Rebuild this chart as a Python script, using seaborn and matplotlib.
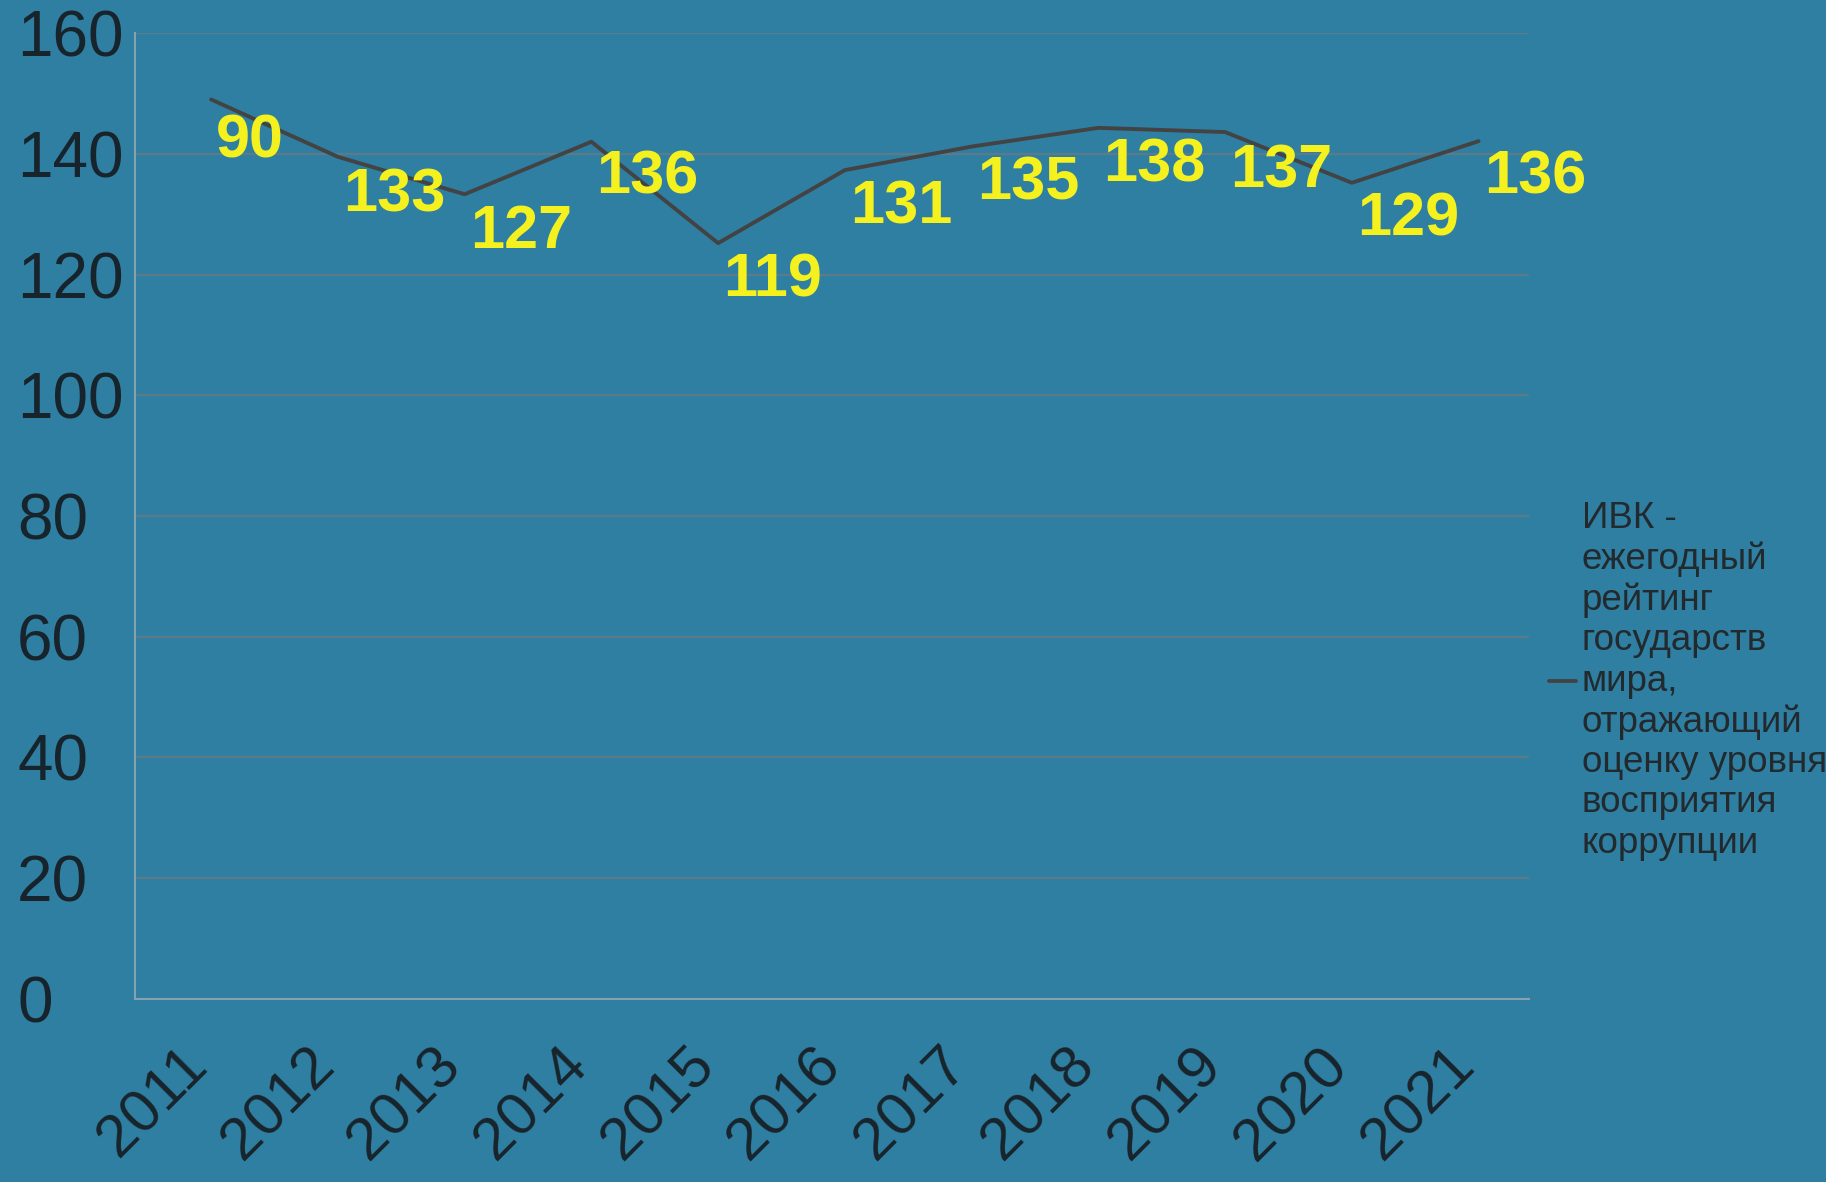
import pandas as pd
import seaborn as sns
import matplotlib.pyplot as plt
from matplotlib.ticker import FixedLocator

# Data
years = ['2011', '2012', '2013', '2014', '2015', '2016',
         '2017', '2018', '2019', '2020', '2021']
line_values = [149, 139.5, 133.3, 142, 125.2, 137.3, 141.2, 144.3, 143.6, 135.2, 142.1]
label_values = [90, 133, 127, 136, 119, 131, 135, 138, 137, 129, 136]
series_name = ('ИВК -\nежегодный\nрейтинг\nгосударств\nмира,\nотражающий\n'
               'оценку уровня\nвосприятия\nкоррупции')

bg = '#2f7fa3'
text_col = '#18242b'

sns.set_style('white')
plt.rcParams['font.family'] = ['Liberation Sans', 'DejaVu Sans']

df = pd.DataFrame({'year': years, 'value': line_values})
df['x'] = range(len(years))

fig = plt.figure(figsize=(18.26, 11.82), dpi=100, facecolor=bg)
ax = fig.add_axes([0.074, 0.155, 0.7635, 0.817])
ax.set_facecolor(bg)

sns.lineplot(data=df, x='x', y='value', ax=ax, color='#434343', linewidth=2.8,
             label=series_name)

# data labels, drawn at the height of their own value
for i, (v, lbl) in enumerate(zip(line_values, label_values)):
    y = lbl if lbl > 100 else v - 7
    ax.text(i + 0.04, y, str(lbl), color='#f4f11e', fontsize=44, fontweight='bold',
            ha='left', va='center')

n = len(years)
ax.set_xlim(-0.6, n - 0.6)
ax.set_ylim(0, 160)
ax.set_yticks(range(0, 161, 20))
ax.yaxis.grid(True, color='#5d7a88', linewidth=1.6)
ax.xaxis.grid(False)

# year labels sit at the category centres, the line points a bit to the right
ax.set_xticks([k - 0.1 for k in range(n)])
ax.set_xticklabels(years, rotation=45, ha='right', va='center', rotation_mode='anchor')
ax.xaxis.set_minor_locator(FixedLocator([k - 0.6 for k in range(n + 1)]))
ax.tick_params(axis='x', which='major', length=0, pad=42, labelsize=43, labelcolor=text_col)
ax.tick_params(axis='x', which='minor', length=6, width=1.2, color='#8aa3b0', direction='out')
ax.tick_params(axis='y', length=5, width=1.2, color='#8aa3b0', pad=80,
               labelsize=46, labelcolor=text_col)
for t in ax.get_yticklabels():
    t.set_horizontalalignment('left')
ax.set_xlabel('')
ax.set_ylabel('')

for side in ['top', 'right']:
    ax.spines[side].set_visible(False)
for side in ['left', 'bottom']:
    ax.spines[side].set_color('#8aa3b0')
    ax.spines[side].set_linewidth(1.4)

leg = ax.legend(loc='center left', bbox_to_anchor=(0.838, 0.424),
                bbox_transform=fig.transFigure, frameon=False, fontsize=26.5,
                handlelength=0.75, handletextpad=0.15, borderpad=0)
for t in leg.get_texts():
    t.set_color('#222a2e')

fig.savefig('out.png', dpi=100, facecolor=bg)
